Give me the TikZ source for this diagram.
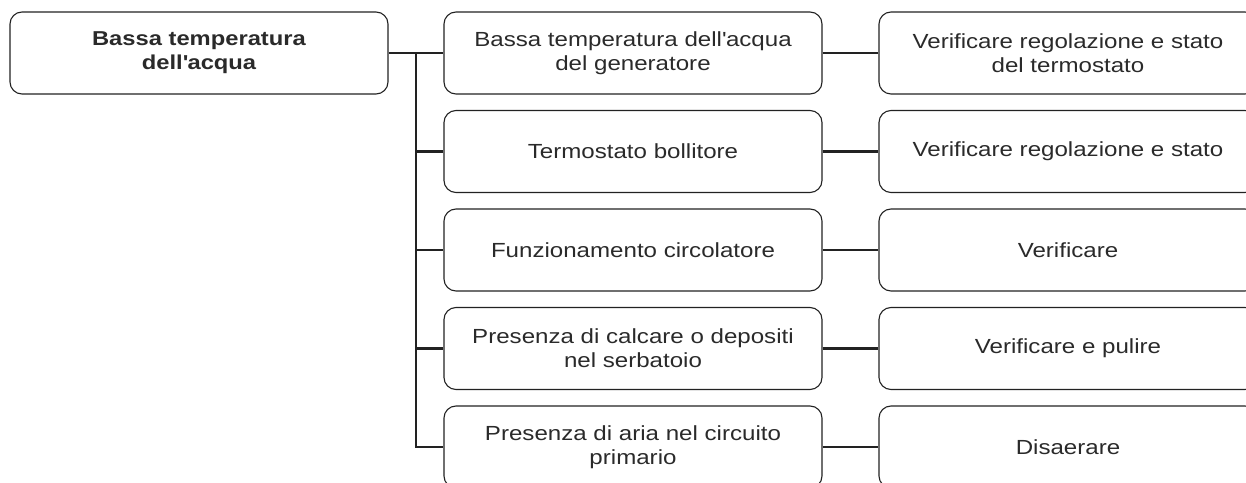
\documentclass[tikz,border=0pt]{standalone}
\usepackage{fontspec}
\setmainfont{Liberation Sans}[FakeStretch=1.18]
\definecolor{ink}{HTML}{222222}
\definecolor{txt}{HTML}{2A2A2A}
\begin{document}
\begin{tikzpicture}[x=1bp,y=-1bp,
  box/.style={draw=ink, line width=1.1bp, rounded corners=12bp, minimum width=378bp,
    minimum height=82bp, inner sep=0pt, align=center, text=txt,
    font=\fontsize{20.5}{24}\selectfont},
  rootbox/.style={box, font=\fontsize{20.2}{24}\selectfont\bfseries},
  link/.style={draw=ink, line width=2.2bp}]
\useasboundingbox (0,0) rectangle (1246,483);
\clip (0,0) rectangle (1246,483);
\node[rootbox] (root) at (199,53) {Bassa temperatura\\dell\textquotesingle acqua};
\node[box] (m1) at (633,53) {Bassa temperatura dell\textquotesingle acqua\\del generatore};
\node[box] (m2) at (633,151.5) {Termostato bollitore};
\node[box] (m3) at (633,250) {Funzionamento circolatore};
\node[box] (m4) at (633,348.5) {Presenza di calcare o depositi\\nel serbatoio};
\node[box] (m5) at (633,447) {Presenza di aria nel circuito\\primario};
\node[box] (r1) at (1068,53) {Verificare regolazione e stato\\del termostato};
\node[box] (r2) at (1068,151.5) {Verificare regolazione e stato};
\node[box] (r3) at (1068,250) {Verificare};
\node[box] (r4) at (1068,348.5) {Verificare e pulire};
\node[box] (r5) at (1068,447) {Disaerare};
\coordinate (j) at (416,53);
\draw[link] (root.east) -- (m1.west);
\draw[link] (j) |- (m2.west);
\draw[link] (j) |- (m3.west);
\draw[link] (j) |- (m4.west);
\draw[link] (j) |- (m5.west);
\foreach \i in {1,...,5} {\draw[link] (m\i.east) -- (r\i.west);}
\end{tikzpicture}
\end{document}
